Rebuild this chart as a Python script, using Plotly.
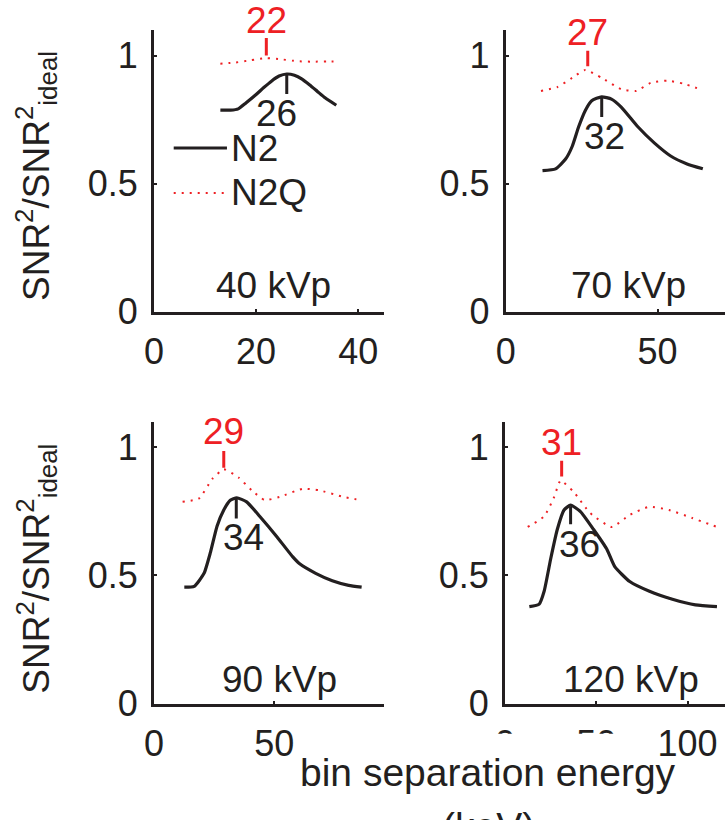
import plotly.graph_objects as go

W, H = 725, 820
BLACK = "#231f20"
RED = "#ee2024"
FONT = "Liberation Sans, Arial, sans-serif"

# ---------------- data ----------------
kvp_labels = ["40 kVp", "70 kVp", "90 kVp", "120 kVp"]

n2_x_40 = [13, 15, 16.5, 18, 20, 21.5, 23, 24.5, 26, 27.5, 29, 30.5, 32, 33.5, 35.7]
n2_y_40 = [0.787, 0.787, 0.792, 0.815, 0.848, 0.875, 0.90, 0.92, 0.928, 0.923, 0.908, 0.885, 0.86, 0.835, 0.806]
n2q_x_40 = [13, 16, 19, 22, 25, 28, 31, 34, 35.7]
n2q_y_40 = [0.968, 0.973, 0.982, 0.99, 0.985, 0.978, 0.976, 0.977, 0.977]

n2_x_70 = [12.1, 16.4, 19.7, 21.9, 24.0, 26.2, 28.3, 31.6, 34.8, 38.1, 43.5, 48.9, 54.3, 59.7, 64.9]
n2_y_70 = [0.551, 0.558, 0.596, 0.646, 0.722, 0.786, 0.824, 0.839, 0.830, 0.798, 0.722, 0.659, 0.608, 0.577, 0.558]
n2q_x_70 = [11.6, 17.0, 21.9, 26.2, 31.6, 38.1, 43.0, 47.8, 53.2, 58.6, 64.1]
n2q_y_70 = [0.862, 0.877, 0.913, 0.944, 0.913, 0.868, 0.862, 0.894, 0.902, 0.89, 0.868]

n2_x_90 = [12.6, 16.7, 20.8, 23.5, 26.2, 29.0, 31.7, 34.4, 38.5, 44.0, 50.8, 57.7, 60.4, 67.2, 74.1, 80.9, 86.3]
n2_y_90 = [0.454, 0.457, 0.508, 0.591, 0.692, 0.755, 0.793, 0.803, 0.787, 0.730, 0.654, 0.572, 0.546, 0.508, 0.479, 0.461, 0.454]
n2q_x_90 = [11.9, 18.7, 24.2, 29.0, 35.1, 40.6, 46.0, 52.2, 61.8, 68.6, 78.8, 85.7]
n2q_y_90 = [0.787, 0.800, 0.876, 0.914, 0.882, 0.832, 0.794, 0.806, 0.838, 0.832, 0.806, 0.794]

n2_x_120 = [13.3, 18.7, 21.4, 25.0, 28.6, 32.3, 35.9, 41.3, 48.5, 55.7, 60.2, 68.3, 79.1, 91.7, 104.3, 116.1]
n2_y_120 = [0.378, 0.388, 0.438, 0.565, 0.679, 0.755, 0.774, 0.749, 0.679, 0.603, 0.533, 0.476, 0.438, 0.407, 0.385, 0.378]
n2q_x_120 = [12.4, 21.4, 26.9, 30.4, 37.7, 46.6, 58.4, 68.3, 79.1, 89.9, 102.5, 116.1]
n2q_y_120 = [0.689, 0.730, 0.806, 0.870, 0.825, 0.743, 0.689, 0.736, 0.768, 0.755, 0.724, 0.689]

# optimum bin separation energies (keV) and marker extents
n2q_peak_x = [22, 27, 29, 31]
n2q_peak_y0 = [1.0, 0.958, 0.92, 0.886]
n2q_peak_y1 = [1.068, 1.019, 0.985, 0.947]
n2q_label_y = [1.134, 1.087, 1.061, 1.015]

n2_peak_x = [26, 31.6, 34.2, 35.9]
n2_peak_y0 = [0.928, 0.837, 0.80, 0.768]
n2_peak_y1 = [0.85, 0.76, 0.722, 0.70]
n2_peak_text = ["26", "32", "34", "36"]
n2_label_x = [24, 32.6, 37, 40.9]
n2_label_y = [0.772, 0.684, 0.646, 0.62]

kvp_label_x = [23.5, 40.4, 52, 69]
kvp_label_y = [0.103, 0.103, 0.095, 0.095]

x_ranges = [[0, 45], [0, 72.2], [0, 95.5], [0, 120.5]]
x_tickvals = [[0, 20, 40], [0, 50], [0, 50], [0, 50, 100]]
y_range = [0, 1.1]
y_tickvals = [0, 0.5, 1]
y_ticktext = ["0", "0.5", "1"]

series = [
    (n2_x_40, n2_y_40, n2q_x_40, n2q_y_40),
    (n2_x_70, n2_y_70, n2q_x_70, n2q_y_70),
    (n2_x_90, n2_y_90, n2q_x_90, n2q_y_90),
    (n2_x_120, n2_y_120, n2q_x_120, n2q_y_120),
]

# ---------------- layout geometry (pixels) ----------------
x_dom_px = [(146, 379), (502.7, 725), (146, 379), (502, 725)]
y_dom_px = [(320, 30.7), (320, 30.7), (722, 432.7), (722, 432.7)]

fig = go.Figure()

for i, (nx, ny, qx, qy) in enumerate(series):
    sfx = "" if i == 0 else str(i + 1)
    xa, ya = "x" + sfx, "y" + sfx
    yb, yt = y_dom_px[i]
    px_per_y = (yb - yt) / (y_range[1] - y_range[0])

    fig.add_trace(go.Scatter(x=qx, y=qy, mode="lines", xaxis=xa, yaxis=ya,
                             line=dict(color=RED, width=2, dash="2px,6px", shape="spline", smoothing=0.5),
                             name="N2Q", showlegend=False))
    fig.add_trace(go.Scatter(x=nx, y=ny, mode="lines", xaxis=xa, yaxis=ya,
                             line=dict(color=BLACK, width=3.2, shape="spline", smoothing=0.5),
                             name="N2", showlegend=False))
    # peak markers
    fig.add_trace(go.Scatter(x=[n2q_peak_x[i], n2q_peak_x[i]], y=[n2q_peak_y0[i], n2q_peak_y1[i]],
                             mode="lines", xaxis=xa, yaxis=ya, cliponaxis=False,
                             line=dict(color=RED, width=3), showlegend=False))
    fig.add_trace(go.Scatter(x=[n2_peak_x[i], n2_peak_x[i]], y=[n2_peak_y0[i], n2_peak_y1[i]],
                             mode="lines", xaxis=xa, yaxis=ya, cliponaxis=False,
                             line=dict(color=BLACK, width=3), showlegend=False))
    fig.add_annotation(x=n2q_peak_x[i], y=n2q_peak_y1[i], xref=xa, yref=ya,
                       yshift=(n2q_label_y[i] - n2q_peak_y1[i]) * px_per_y,
                       text=str(n2q_peak_x[i]), showarrow=False,
                       font=dict(family=FONT, size=37, color=RED),
                       xanchor="center", yanchor="middle")
    fig.add_annotation(x=n2_label_x[i], y=n2_label_y[i], xref=xa, yref=ya,
                       text=n2_peak_text[i], showarrow=False,
                       font=dict(family=FONT, size=37, color=BLACK),
                       xanchor="center", yanchor="middle")
    fig.add_annotation(x=kvp_label_x[i], y=kvp_label_y[i], xref=xa, yref=ya,
                       text=kvp_labels[i], showarrow=False,
                       font=dict(family=FONT, size=37, color=BLACK),
                       xanchor="center", yanchor="middle")

    x0, x1 = x_dom_px[i]
    axis_common = dict(showline=True, linecolor=BLACK, linewidth=3, showgrid=False,
                       zeroline=False, ticks="inside", ticklen=3, tickwidth=2, tickcolor=BLACK,
                       tickfont=dict(family=FONT, size=36, color=BLACK), mirror=False)
    fig.update_layout(**{
        ("xaxis" + sfx): dict(domain=[x0 / W, x1 / W], range=x_ranges[i], anchor=ya,
                              tickvals=x_tickvals[i], ticklabelstandoff=6, **axis_common),
        ("yaxis" + sfx): dict(domain=[1 - yb / H, 1 - yt / H], range=y_range, anchor=xa,
                              tickvals=y_tickvals, ticktext=y_ticktext, ticklabelstandoff=6,
                              **axis_common),
    })

# manual legend (top-left panel)
legend_items = [("N2", BLACK, "solid", 3, 152), ("N2Q", RED, "2px,6px", 2, 198)]
for name, col, dash, lw, ypx in legend_items:
    fig.add_shape(type="line", xref="paper", yref="paper",
                  x0=166 / W, x1=220 / W, y0=1 - ypx / H, y1=1 - ypx / H,
                  line=dict(color=col, width=lw, dash=dash))
    fig.add_annotation(x=222 / W, y=1 - ypx / H, xref="paper", yref="paper",
                       text=name, showarrow=False, xanchor="left", yanchor="middle",
                       font=dict(family=FONT, size=37, color=BLACK))

# white box (as in the reference) over part of bottom tick labels
fig.add_shape(type="rect", xref="paper", yref="paper", layer="above",
              x0=288 / W, x1=655 / W, y0=-0.05, y1=1 - 753 / H,
              fillcolor="white", line=dict(width=0))

# y-axis titles
ytitle = "SNR<sup>2</sup>/SNR<sup>2</sup><sub>ideal</sub>"
for ycen in [181, 584]:
    fig.add_annotation(x=26 / W, y=1 - ycen / H, xref="paper", yref="paper",
                       text=ytitle, textangle=-90, showarrow=False,
                       xanchor="center", yanchor="middle",
                       font=dict(family=FONT, size=37, color=BLACK))

# x-axis title (second line cut off by the page edge)
fig.add_annotation(x=485 / W, y=1 - 793 / H, xref="paper", yref="paper",
                   text="bin separation energy", showarrow=False,
                   xanchor="center", yanchor="middle",
                   font=dict(family=FONT, size=39, color=BLACK))
fig.add_annotation(x=485 / W, y=1 - 848 / H, xref="paper", yref="paper",
                   text="(keV)", showarrow=False,
                   xanchor="center", yanchor="middle",
                   font=dict(family=FONT, size=39, color=BLACK))

fig.update_layout(width=W, height=H, margin=dict(l=0, r=0, t=0, b=0),
                  paper_bgcolor="white", plot_bgcolor="white", showlegend=False)

fig.write_html("out.html")
